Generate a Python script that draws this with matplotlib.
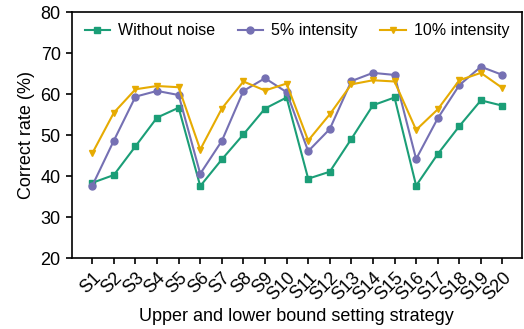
import matplotlib.pyplot as plt
import numpy as np

plt.rcParams['font.family'] = ['Liberation Sans', 'DejaVu Sans']

strategies = [f"S{i}" for i in range(1, 21)]
without_noise = [38.4, 40.3, 47.3, 54.3, 56.7, 37.6, 44.1, 50.2, 56.5, 59.2,
                 39.4, 41.1, 49.1, 57.3, 59.2, 37.7, 45.4, 52.2, 58.5, 57.2]
intensity_5 = [37.7, 48.7, 59.4, 60.8, 59.8, 40.6, 48.6, 60.8, 63.9, 60.5,
               46.1, 51.5, 63.2, 65.2, 64.7, 44.2, 54.1, 62.2, 66.7, 64.7]
intensity_10 = [45.6, 55.5, 61.2, 62.0, 61.7, 46.5, 56.5, 63.1, 60.9, 62.6,
                48.7, 55.1, 62.4, 63.4, 63.1, 51.3, 56.3, 63.4, 65.2, 61.5]

GREEN = "#1b9e77"
PURPLE = "#7570b3"
YELLOW = "#e6ab02"

fig = plt.figure(figsize=(5.24, 3.29), dpi=100)
ax = fig.add_axes([0.137, 0.215, 0.859, 0.748])

x = np.arange(1, len(strategies) + 1)
ax.plot(x, without_noise, color=GREEN, marker="s", markersize=5, linewidth=1.5,
        label="Without noise")
ax.plot(x, intensity_5, color=PURPLE, marker="o", markersize=5, linewidth=1.5,
        label="5% intensity")
ax.plot(x, intensity_10, color=YELLOW, marker="v", markersize=5, linewidth=1.5,
        label="10% intensity")

ax.set_xlim(0.05, 20.9)
ax.set_ylim(20, 80)
ax.set_yticks(range(20, 81, 10))
ax.set_xticks(x)
ax.set_xticklabels(strategies, rotation=45, ha="right", rotation_mode="anchor")
ax.tick_params(labelsize=13, width=1.2, length=4.5)
ax.set_xlabel("Upper and lower bound setting strategy", fontsize=13, labelpad=3)
ax.set_ylabel("Correct rate (%)", fontsize=13)
for s in ax.spines.values():
    s.set_linewidth(1.2)

ax.legend(loc="upper center", ncol=3, frameon=False, fontsize=11.5,
          handlelength=1.6, handletextpad=0.5, columnspacing=1.4,
          borderaxespad=0.3, bbox_to_anchor=(0.5, 1.0))

fig.savefig("out.png", dpi=100)
